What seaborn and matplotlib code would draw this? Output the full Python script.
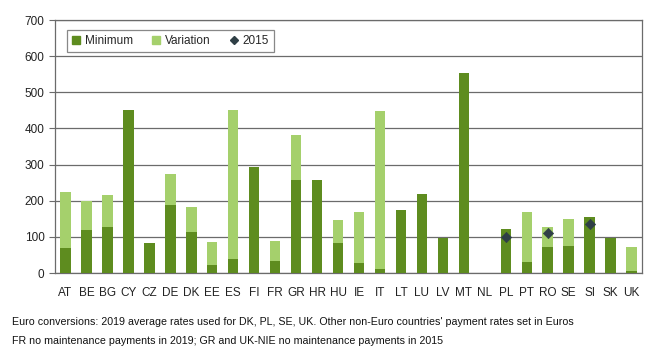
import matplotlib
matplotlib.use("Agg")
import matplotlib.pyplot as plt
import seaborn as sns
import pandas as pd
import numpy as np
from matplotlib.lines import Line2D
from matplotlib.patches import Patch

countries = ["AT", "BE", "BG", "CY", "CZ", "DE", "DK", "EE", "ES", "FI", "FR", "GR", "HR", "HU",
             "IE", "IT", "LT", "LU", "LV", "MT", "NL", "PL", "PT", "RO", "SE", "SI", "SK", "UK"]
minimum = [69, 119, 127, 450, 83, 187, 114, 23, 40, 294, 34, 258, 258, 82,
           29, 11, 175, 219, 96, 554, 0, 123, 32, 71, 75, 156, 96, 6]
maximum = [225, 200, 216, 450, 83, 273, 182, 85, 450, 294, 89, 383, 258, 147,
           169, 449, 175, 219, 96, 554, 0, 123, 169, 128, 150, 156, 96, 73]
y2015 = [np.nan] * 21 + [99, np.nan, 111, np.nan, 136, np.nan, np.nan]

footnote1 = "Euro conversions: 2019 average rates used for DK, PL, SE, UK. Other non-Euro countries' payment rates set in Euros"
footnote2 = "FR no maintenance payments in 2019; GR and UK-NIE no maintenance payments in 2015"

DARK = "#5E8C1F"
LIGHT = "#A5D06C"
DIAM = "#2F3F46"

sns.set_style("white")
plt.rcParams["font.family"] = ["Liberation Sans Narrow", "Liberation Sans", "DejaVu Sans"]

df = pd.DataFrame({"country": countries, "minimum": minimum, "maximum": maximum, "y2015": y2015})

fig = plt.figure(figsize=(6.65, 3.51), dpi=100)
ax = fig.add_axes([0.0827, 0.222, 0.8828, 0.721])

sns.barplot(data=df, x="country", y="maximum", color=LIGHT, width=0.5, ax=ax, saturation=1,
            linewidth=0, zorder=3)
sns.barplot(data=df, x="country", y="minimum", color=DARK, width=0.5, ax=ax, saturation=1,
            linewidth=0, zorder=4)
sns.scatterplot(data=df.dropna(), x="country", y="y2015", marker="D", color=DIAM, s=28,
                edgecolor=DIAM, ax=ax, zorder=5)

ax.set_xlim(-0.5, len(countries) - 0.5)
ax.set_ylim(0, 700)
ax.set_yticks(range(0, 701, 100))
ax.set_xlabel("")
ax.set_ylabel("")
ax.yaxis.grid(True, color="#6b6b6b", linewidth=0.9, zorder=0)
ax.set_axisbelow(True)

for s in ["top", "right", "left", "bottom"]:
    ax.spines[s].set_visible(True)
    ax.spines[s].set_color("#6b6b6b")
    ax.spines[s].set_linewidth(0.9)

ax.tick_params(axis="x", which="major", length=0, labelsize=8.5, colors="#222222", pad=10)
ax.set_xticks(np.arange(-0.5, len(countries), 1), minor=True)
ax.tick_params(axis="x", which="minor", length=4, width=0.8, color="#6b6b6b", direction="out")
ax.tick_params(axis="y", length=4, width=0.8, color="#6b6b6b", labelsize=8.5, labelcolor="#222222",
               direction="out", left=True)

handles = [Patch(facecolor=DARK, edgecolor=DARK), Patch(facecolor=LIGHT, edgecolor=LIGHT),
           Line2D([0], [0], marker="D", color="none", markerfacecolor=DIAM, markeredgecolor=DIAM, markersize=4.5)]
leg = ax.legend(handles, ["Minimum", "Variation", "2015"], loc="upper left", ncol=3,
                bbox_to_anchor=(0.01, 0.985), frameon=True, fancybox=False, fontsize=8.5,
                handlelength=0.7, handleheight=0.7, handletextpad=0.4, columnspacing=1.6,
                borderpad=0.45, edgecolor="#6b6b6b")
leg.get_frame().set_linewidth(0.9)
leg.set_zorder(10)

fig.text(12 / 665, 1 - 322 / 351, footnote1, fontsize=7.7, color="#111111", va="center")
fig.text(12 / 665, 1 - 341 / 351, footnote2, fontsize=7.7, color="#111111", va="center")

fig.savefig("out.png", dpi=100)
